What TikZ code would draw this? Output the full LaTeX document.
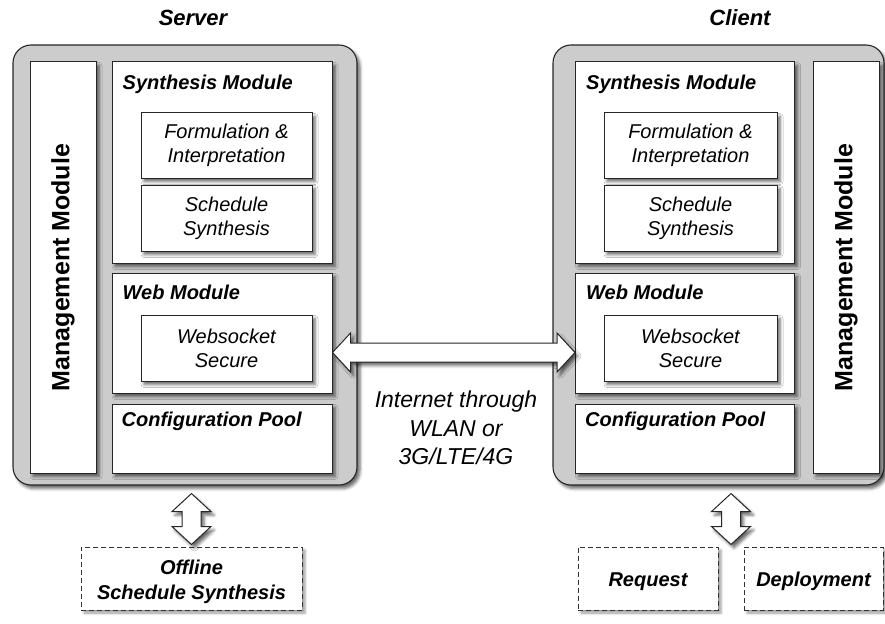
\documentclass[tikz,border=0pt]{standalone}
\usepackage{fontspec}
\setmainfont{Liberation Sans}
\usetikzlibrary{calc,shadows.blur}

% geometry of the fat double arrows
\def\ahl{18pt}   % head length
\def\ahw{19.5pt} % half width of the head
\def\asw{9.5pt}  % half width of the shaft

% fat white double arrow between two named points
\newcommand\fatarrow[2]{%
  \coordinate (fa1) at ($(#1)!\ahl!(#2)$);
  \coordinate (fa2) at ($(#2)!\ahl!(#1)$);
  \draw[fatarrowstyle] (#1)
    -- ($(fa1)!\ahw!90:(#2)$) -- ($(fa1)!\asw!90:(#2)$)
    -- ($(fa2)!\asw!-90:(#1)$) -- ($(fa2)!\ahw!-90:(#1)$)
    -- (#2)
    -- ($(fa2)!\ahw!90:(#1)$) -- ($(fa2)!\asw!90:(#1)$)
    -- ($(fa1)!\asw!-90:(#2)$) -- ($(fa1)!\ahw!-90:(#2)$)
    -- cycle;}

\tikzset{
  softshadow/.style={blur shadow={shadow xshift=3pt, shadow yshift=-3.5pt,
      shadow blur radius=3pt, shadow opacity=60}},
  outerbox/.style={draw=black!85, line width=1.1pt, fill=black!20,
      rounded corners=18pt, inner sep=0pt, softshadow},
  modbox/.style={draw=black!85, line width=1pt, fill=white, inner sep=0pt, softshadow},
  subbox/.style={modbox, align=center, font=\itshape\fontsize{20}{24}\selectfont},
  dashbox/.style={draw=black!80, line width=1pt, dash pattern=on 5pt off 3pt,
      fill=white, inner sep=0pt,
      blur shadow={shadow xshift=3pt, shadow yshift=-3pt, shadow blur radius=2.5pt, shadow opacity=40}},
  dashtext/.style={align=center, inner sep=0pt,
      font=\bfseries\itshape\fontsize{20}{25}\selectfont},
  head/.style={font=\bfseries\itshape\fontsize{20}{24}\selectfont, inner sep=0pt, anchor=base west},
  mgmttext/.style={font=\bfseries\fontsize{25}{29}\selectfont, rotate=90, inner sep=0pt},
  titletext/.style={font=\bfseries\itshape\fontsize{22}{26}\selectfont, inner sep=0pt},
  nettext/.style={font=\itshape\fontsize{23}{28.5}\selectfont, align=center, inner sep=0pt},
  fatarrowstyle/.style={draw=black!85, line width=1pt, fill=white, line join=miter, softshadow}
}

\begin{document}
\begin{tikzpicture}[x=1pt,y=-1pt]
\useasboundingbox (0,0) rectangle (885,623);

% ---------------- Server ----------------
\node[titletext] (srvtitle) at (193,18) {Server};
\node[outerbox, minimum width=344, minimum height=440] (srv) at (185,265) {};
\node[modbox, minimum width=66, minimum height=411] (smgmt) at (63,267.5) {};
\node[mgmttext] (smgmtlbl) at (smgmt.center) {Management Module};

\node[modbox, minimum width=220, minimum height=201] (ssyn) at (222,162.5) {};
\node[head] (ssynlbl) at ([xshift=11pt,yshift=-28pt]ssyn.north west) {Synthesis Module};
\node[subbox, minimum width=171, minimum height=65] (sform) at (226.5,145.5) {Formulation \&\\Interpretation};
\node[subbox, minimum width=171, minimum height=66] (ssched) at (226.5,218) {Schedule\\Synthesis};

\node[modbox, minimum width=220, minimum height=120] (sweb) at (222,333) {};
\node[head] (sweblbl) at ([xshift=11pt,yshift=-27pt]sweb.north west) {Web Module};
\node[subbox, minimum width=171, minimum height=66] (swss) at (226.5,348) {Websocket\\Secure};

\node[modbox, minimum width=220, minimum height=69] (sconf) at (222,438.5) {};
\node[head] (sconflbl) at ([xshift=10pt,yshift=-23pt]sconf.north west) {Configuration Pool};

% ---------------- Client ----------------
\node[titletext] (clititle) at (740,18) {Client};
\node[outerbox, minimum width=331, minimum height=440] (cli) at (718.5,265) {};
\node[modbox, minimum width=66, minimum height=411] (cmgmt) at (846,267.5) {};
\node[mgmttext] (cmgmtlbl) at (cmgmt.center) {Management Module};

\node[modbox, minimum width=219, minimum height=201] (csyn) at (685,162.5) {};
\node[head] (csynlbl) at ([xshift=11pt,yshift=-28pt]csyn.north west) {Synthesis Module};
\node[subbox, minimum width=173, minimum height=65] (cform) at (690.5,145.5) {Formulation \&\\Interpretation};
\node[subbox, minimum width=173, minimum height=66] (csched) at (690.5,218) {Schedule\\Synthesis};

\node[modbox, minimum width=219, minimum height=120] (cweb) at (685,333) {};
\node[head] (cweblbl) at ([xshift=11pt,yshift=-27pt]cweb.north west) {Web Module};
\node[subbox, minimum width=173, minimum height=66] (cwss) at (690.5,348) {Websocket\\Secure};

\node[modbox, minimum width=219, minimum height=69] (cconf) at (685,438.5) {};
\node[head] (cconflbl) at ([xshift=10pt,yshift=-23pt]cconf.north west) {Configuration Pool};

% ---------------- Link between the two ----------------
\node[nettext] (inet) at (456,428) {Internet through\\WLAN or\\3G/LTE/4G};
\coordinate (linky) at (0,352.5);
\coordinate (linkL) at (sweb.east |- linky);
\coordinate (linkR) at (cweb.west |- linky);
\fatarrow{linkL}{linkR}

% ---------------- External parts ----------------
\node[dashbox, minimum width=221, minimum height=63] (offline) at (191.5,578.5) {};
\node[dashtext] (offlinelbl) at ([yshift=-3.5pt]offline.center) {Offline\\Schedule Synthesis};
\node[dashbox, minimum width=140, minimum height=63] (request) at (648,578.5) {};
\node[dashtext] (requestlbl) at ([yshift=-3pt]request.center) {Request};
\node[dashbox, minimum width=139, minimum height=63] (deploy) at (813.5,578.5) {};
\node[dashtext] (deploylbl) at ([yshift=-3pt]deploy.center) {Deployment};

\coordinate (sarrB) at ([yshift=2pt]offline.north);
\coordinate (sarrT) at ([yshift=-8pt]srv.south -| sarrB);
\fatarrow{sarrT}{sarrB}

\coordinate (carrB) at ($(request.north east)!0.5!(deploy.north west)+(0,-2)$);
\coordinate (carrT) at ([yshift=-8pt]cli.south -| carrB);
\fatarrow{carrT}{carrB}
\end{tikzpicture}
\end{document}
